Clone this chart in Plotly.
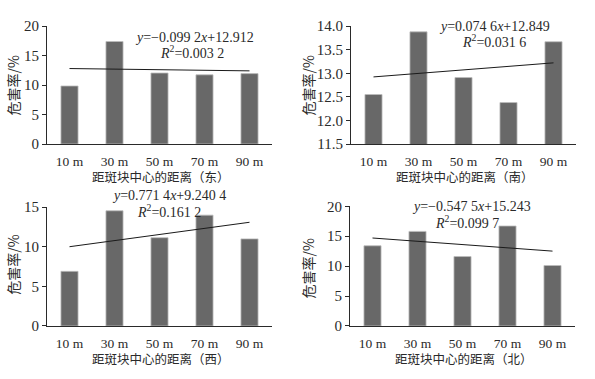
import plotly.graph_objects as go

W, H = 595, 379

categories = ["10 m", "30 m", "50 m", "70 m", "90 m"]
east = [9.85, 17.4, 12.05, 11.75, 11.95]
south = [12.55, 13.88, 12.91, 12.38, 13.67]
west = [6.9, 14.55, 11.15, 14.0, 11.0]
north = [13.4, 15.8, 11.6, 16.7, 10.1]

# printed regression lines: (slope, intercept)
fits = [(-0.0992, 12.912), (0.0746, 12.849), (0.7714, 9.2404), (-0.5475, 15.243)]
eq_texts = [
    "<i>y</i>=−0.099 2<i>x</i>+12.912",
    "<i>y</i>=0.074 6<i>x</i>+12.849",
    "<i>y</i>=0.771 4<i>x</i>+9.240 4",
    "<i>y</i>=−0.547 5<i>x</i>+15.243",
]
r2_texts = [
    "<i>R</i><sup>2</sup>=0.003 2",
    "<i>R</i><sup>2</sup>=0.031 6",
    "<i>R</i><sup>2</sup>=0.161 2",
    "<i>R</i><sup>2</sup>=0.099 7",
]
xtitles = ["距斑块中心的距离（东）", "距斑块中心的距离（南）", "距斑块中心的距离（西）", "距斑块中心的距离（北）"]
ytitle = "危害率/%"
yranges = [[0, 20], [11.5, 14.0], [0, 15], [0, 20]]
ydticks = [5, 0.5, 5, 5]
series = [east, south, west, north]

# pixel layout of each panel: (x0, x1, ytop, ybottom)
panels = [(47, 272, 19, 142), (351, 576, 19, 142), (47, 272, 208, 332), (350, 575, 207, 332)]
# left edge / vertical centre of equation and R2 lines
eq_pos = [((133, 31), (158, 46)), ((437, 19), (460, 34)), ((110, 196), (135, 212)), ((410, 207), (433, 223))]
xt_pos = [(161, 176), (465, 176), (161, 366), (464, 366)]
yt_pos = [(13, 81), (308, 81), (13, 268), (308, 272)]

serif = "Liberation Serif, Times New Roman, serif"
cjk = "Noto Sans CJK SC, sans-serif"
ink = "#2a2a2a"

fig = go.Figure()
layout = dict(width=W, height=H, margin=dict(l=0, r=0, t=0, b=0),
              plot_bgcolor="white", paper_bgcolor="white", showlegend=False)
annotations = []

def px(x):
    return x / W

def py(y):
    return 1 - y / H

for i in range(4):
    n = "" if i == 0 else str(i + 1)
    xa, ya = "x" + n, "y" + n
    fig.add_trace(go.Bar(x=categories, y=series[i], xaxis=xa, yaxis=ya, width=0.38,
                         marker=dict(color="#686868", line=dict(color="#bdbdbd", width=0.8))))
    b, a = fits[i]
    fig.add_trace(go.Scatter(x=[categories[0], categories[-1]], y=[a + b * 1, a + b * 5],
                             xaxis=xa, yaxis=ya, mode="lines",
                             line=dict(color="#1a1a1a", width=1)))
    x0, x1, yt, yb = panels[i]
    layout["xaxis" + n] = dict(domain=[px(x0), px(x1)], anchor=ya, type="category",
                               range=[-0.5, 4.5], showline=True, linecolor=ink, linewidth=1,
                               ticks="", showgrid=False, zeroline=False,
                               tickfont=dict(family=serif, size=13.5, color=ink),
                               ticklabelstandoff=5)
    layout["yaxis" + n] = dict(domain=[py(yb), py(yt)], anchor=xa, range=yranges[i],
                               dtick=ydticks[i], tick0=yranges[i][0],
                               tickformat=".1f" if i == 1 else "d",
                               showline=True, linecolor=ink, linewidth=1,
                               ticks="outside", ticklen=4, tickcolor=ink,
                               showgrid=False, zeroline=False,
                               tickfont=dict(family=serif, size=15, color=ink))
    (ex, ey), (rx, ry) = eq_pos[i]
    annotations.append(dict(x=px(ex), y=py(ey), xref="paper", yref="paper", text=eq_texts[i],
                            showarrow=False, xanchor="left", yanchor="middle",
                            font=dict(family=serif, size=14, color=ink)))
    annotations.append(dict(x=px(rx), y=py(ry), xref="paper", yref="paper", text=r2_texts[i],
                            showarrow=False, xanchor="left", yanchor="middle",
                            font=dict(family=serif, size=14, color=ink)))
    tx, ty = xt_pos[i]
    annotations.append(dict(x=px(tx), y=py(ty), xref="paper", yref="paper", text=xtitles[i],
                            showarrow=False, xanchor="center", yanchor="middle",
                            font=dict(family=cjk, size=12.5, color=ink)))
    tx, ty = yt_pos[i]
    annotations.append(dict(x=px(tx), y=py(ty), xref="paper", yref="paper", text=ytitle,
                            showarrow=False, xanchor="center", yanchor="middle", textangle=-90,
                            font=dict(family=cjk, size=14, color=ink)))

layout["annotations"] = annotations
fig.update_layout(**layout)
fig.write_html("out.html", config={"displayModeBar": False},
               post_script="document.body.style.margin='0';document.body.style.overflow='hidden';")
